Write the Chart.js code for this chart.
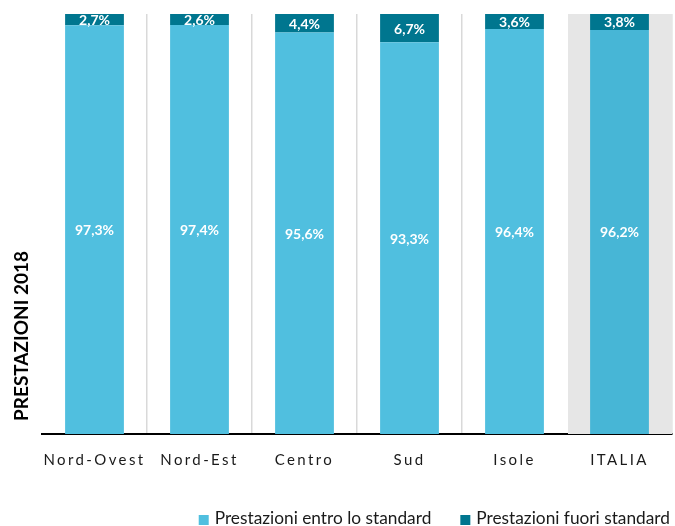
<!DOCTYPE html>
<html>
<head>
<meta charset="utf-8">
<script src="https://cdn.jsdelivr.net/npm/chart.js@4"></script>
<style>
  html, body { margin: 0; padding: 0; background: #ffffff; overflow: hidden; }
  #wrap { width: 675px; height: 526px; position: relative; }
</style>
</head>
<body>
<div id="wrap"><canvas id="chart"></canvas></div>
<script>
  'use strict';

  // Chart data.
  const categories = ['Nord-Ovest', 'Nord-Est', 'Centro', 'Sud', 'Isole', 'ITALIA'];
  const entroStandard = [97.3, 97.4, 95.6, 93.3, 96.4, 96.2];
  const fuoriStandard = [2.7, 2.6, 4.4, 6.7, 3.6, 3.8];
  const seriesLabels = ['Prestazioni entro lo standard', 'Prestazioni fuori standard'];
  const axisTitle = 'PRESTAZIONI 2018';

  const FONT = 'Lato, "Open Sans", sans-serif';
  const LIGHT = '#50bfdf';
  const LIGHT_TOTAL = '#47b6d6';
  const DARK = '#00768f';

  /**
   * Formats a value the Italian way: 97,3%.
   */
  function formatPct(value) {
    return value.toFixed(1).replace('.', ',') + '%';
  }

  /**
   * Draws the grey band behind the last category (ITALIA).
   */
  const bandPlugin = {
    id: 'band',
    beforeDatasetsDraw: function (chart) {
      const x = chart.scales.x;
      const area = chart.chartArea;
      const step = (area.right - area.left) / categories.length;
      const cx = x.getPixelForValue(categories.length - 1);
      const ctx = chart.ctx;
      ctx.save();
      ctx.fillStyle = '#e6e6e6';
      ctx.fillRect(cx - step / 2 + 1, area.top, step - 1, area.bottom - area.top);
      ctx.restore();
    },
  };

  /**
   * Draws the percentage labels inside each segment.
   */
  const valueLabelsPlugin = {
    id: 'valueLabels',
    afterDatasetsDraw: function (chart) {
      const ctx = chart.ctx;
      ctx.save();
      ctx.fillStyle = '#ffffff';
      ctx.font = 'bold 14px ' + FONT;
      ctx.textAlign = 'center';
      ctx.textBaseline = 'middle';
      chart.data.datasets.forEach(function (dataset, di) {
        chart.getDatasetMeta(di).data.forEach(function (bar, i) {
          const y = (bar.y + bar.base) / 2;
          ctx.fillText(formatPct(dataset.data[i]), bar.x, y + 1);
        });
      });
      ctx.restore();
    },
  };

  /**
   * Draws category labels, axis title and legend.
   */
  const decorPlugin = {
    id: 'decor',
    afterDraw: function (chart) {
      const ctx = chart.ctx;
      const x = chart.scales.x;

      // Category labels, spaced out.
      ctx.save();
      ctx.fillStyle = '#1a1a1a';
      ctx.font = '15px ' + FONT;
      ctx.letterSpacing = '2.4px';
      ctx.textAlign = 'center';
      ctx.textBaseline = 'middle';
      categories.forEach(function (label, i) {
        ctx.fillText(label, x.getPixelForValue(i), 460);
      });
      ctx.restore();

      // Vertical axis title.
      ctx.save();
      ctx.fillStyle = '#000000';
      ctx.font = 'bold 19px ' + FONT;
      ctx.textAlign = 'center';
      ctx.textBaseline = 'middle';
      ctx.translate(22, 336);
      ctx.rotate(-Math.PI / 2);
      ctx.fillText(axisTitle, 0, 0);
      ctx.restore();

      // Legend, aligned to the right.
      ctx.save();
      ctx.font = '17.3px ' + FONT;
      ctx.textBaseline = 'middle';
      const colors = [LIGHT, DARK];
      const boxSize = 10;
      const boxGap = 6;
      const itemGap = 29;
      let right = 670;
      for (let i = seriesLabels.length - 1; i >= 0; i--) {
        const w = ctx.measureText(seriesLabels[i]).width;
        const textX = right - w;
        const boxX = textX - boxGap - boxSize;
        ctx.fillStyle = colors[i];
        ctx.fillRect(boxX, 515, boxSize, boxSize);
        ctx.fillStyle = '#1a1a1a';
        ctx.fillText(seriesLabels[i], textX, 518);
        right = boxX - itemGap;
      }
      ctx.restore();
    },
  };

  new Chart(document.getElementById('chart'), {
    type: 'bar',
    data: {
      labels: categories,
      datasets: [
        {
          label: seriesLabels[0],
          data: entroStandard,
          backgroundColor: entroStandard.map((v, i) => (i === categories.length - 1 ? LIGHT_TOTAL : LIGHT)),
          borderWidth: 0,
          categoryPercentage: 1,
          barPercentage: 0.56,
        },
        {
          label: seriesLabels[1],
          data: fuoriStandard,
          backgroundColor: DARK,
          borderWidth: 0,
          categoryPercentage: 1,
          barPercentage: 0.56,
        },
      ],
    },
    options: {
      responsive: true,
      maintainAspectRatio: false,
      animation: false,
      layout: {
        padding: { left: 42, right: 3, top: 14, bottom: 92 },
      },
      plugins: {
        legend: { display: false },
        tooltip: { enabled: false },
      },
      scales: {
        x: {
          stacked: true,
          offset: true,
          ticks: { display: false },
          grid: {
            offset: true,
            drawTicks: false,
            lineWidth: 1.5,
            color: function (c) {
              return c.index === 0 || c.index >= categories.length - 1 ? 'rgba(0,0,0,0)' : '#d9d9d9';
            },
          },
          border: { display: true, color: '#000000', width: 2 },
        },
        y: {
          stacked: true,
          display: false,
          min: 0,
          max: 100,
        },
      },
    },
    plugins: [bandPlugin, valueLabelsPlugin, decorPlugin],
  });
</script>
</body>
</html>
